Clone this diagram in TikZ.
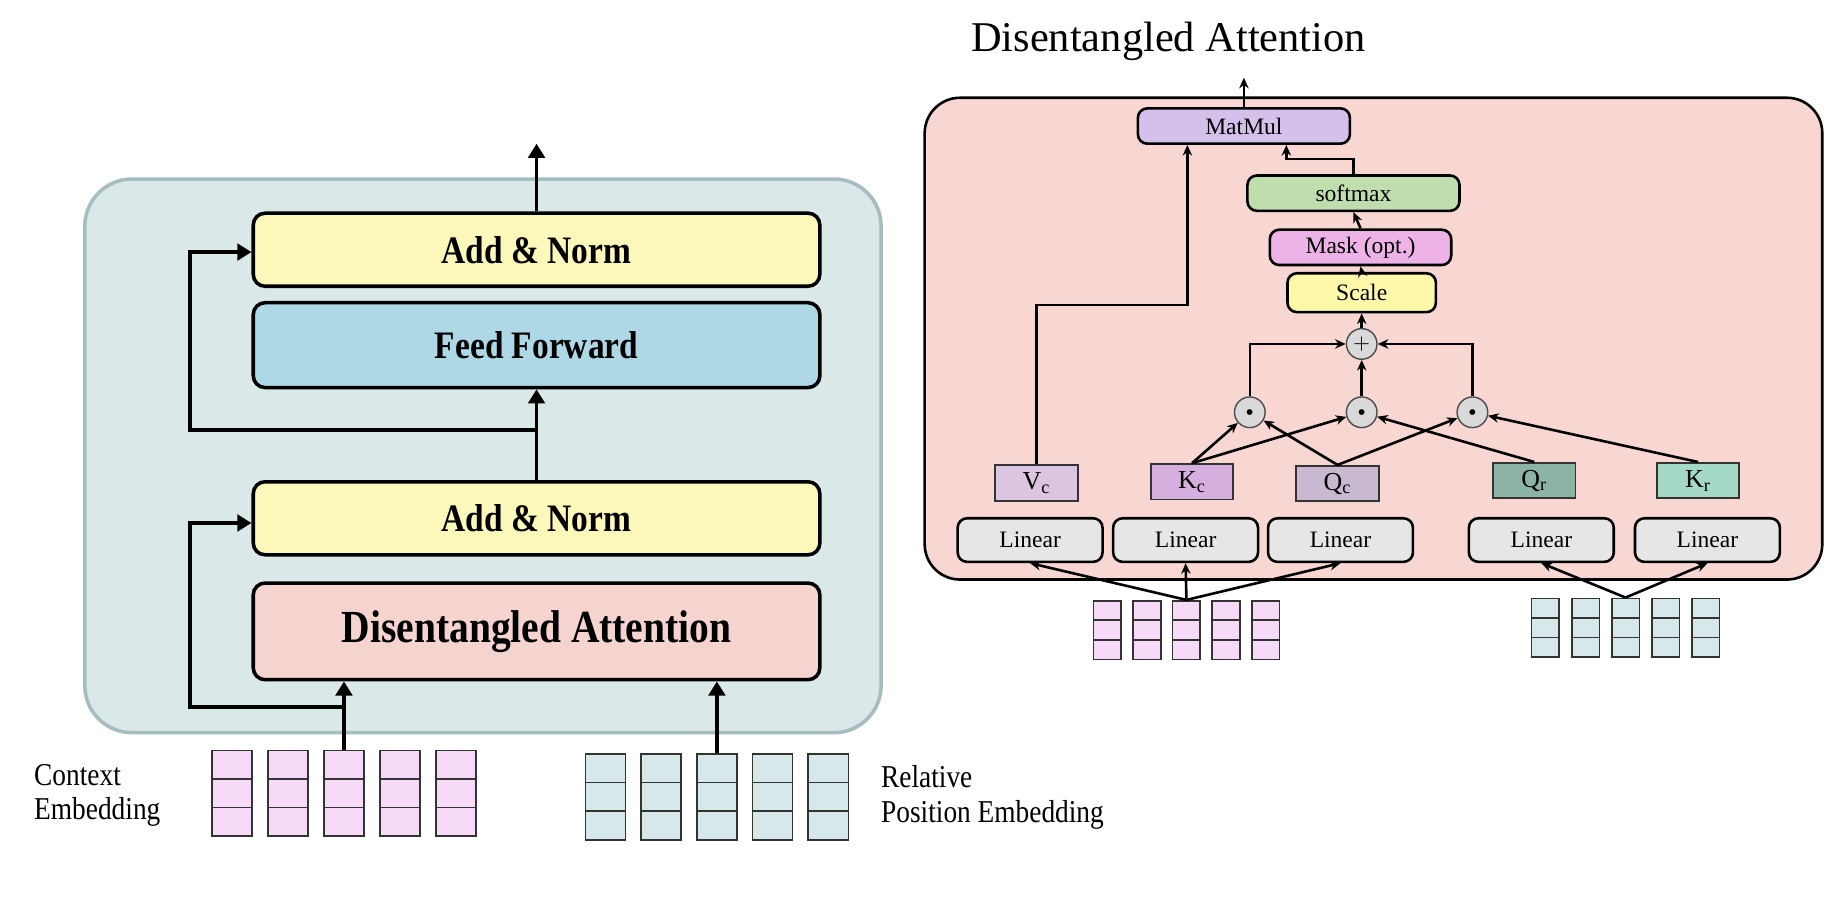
\documentclass[tikz,border=0pt]{standalone}
\usepackage{fontspec}
\setmainfont{Liberation Serif}
\newfontfamily\narrowfont[FakeStretch=0.86]{Liberation Serif}
\usetikzlibrary{arrows.meta}
\definecolor{layerfill}{HTML}{DAE8E8}
\definecolor{layeredge}{HTML}{A5BCC0}
\definecolor{normfill}{HTML}{FCF8BA}
\definecolor{fffill}{HTML}{AED8E5}
\definecolor{attnfill}{HTML}{F5D3CE}
\definecolor{ctxpink}{HTML}{F7DAF8}
\definecolor{relteal}{HTML}{D7E8EA}
\definecolor{panelpink}{HTML}{F8D7D3}
\definecolor{matfill}{HTML}{D4C0EA}
\definecolor{smfill}{HTML}{C0DDAE}
\definecolor{maskfill}{HTML}{EDB3E6}
\definecolor{scalefill}{HTML}{FDF9A9}
\definecolor{opgray}{HTML}{D9D9D9}
\definecolor{lingray}{HTML}{E6E6E6}
\definecolor{vcfill}{HTML}{DCC5E1}
\definecolor{kcfill}{HTML}{D5AFDD}
\definecolor{qcfill}{HTML}{C9B9D0}
\definecolor{qrfill}{HTML}{8BB4A6}
\definecolor{krfill}{HTML}{A3D9C5}
\tikzset{
  bigbox/.style={draw,line width=1.5pt,rounded corners=5pt,minimum width=240.5pt,
    font=\narrowfont\bfseries\fontsize{16.5}{18}\selectfont},
  flow/.style={line width=1.6pt,-{Triangle[width=7pt,length=6pt]}},
  opbox/.style={draw,line width=1.1pt,rounded corners=4pt,minimum height=15pt,
    inner sep=0pt,font=\fontsize{10}{12}\selectfont},
  linbox/.style={opbox,fill=lingray,minimum width=61.5pt,minimum height=18.5pt},
  vecbox/.style={draw=black!80,line width=0.8pt,minimum width=35pt,minimum height=15pt,
    inner sep=0pt,font=\fontsize{11}{12}\selectfont},
  opcirc/.style={circle,draw=black!70,line width=0.6pt,fill=opgray,minimum size=13pt,
    inner sep=0pt,font=\fontsize{9}{10}\selectfont},
  link/.style={line width=1.1pt,-{Stealth[length=4.5pt,width=4pt]}},
  cell/.style={draw=black!80,line width=0.7pt,inner sep=0pt}
}
\begin{document}
\begin{tikzpicture}[x=0.5pt,y=-0.5pt]
  \useasboundingbox (0,0) rectangle (1568,780);
  % encoder layer
  \draw[draw=layeredge,line width=1.5pt,fill=layerfill,rounded corners=20pt] (72,152) rectangle (748,622);
  \node[bigbox,fill=normfill,minimum height=31pt] (an2) at (455.5,212) {Add \& Norm};
  \node[bigbox,fill=fffill,minimum height=36pt] (ff) at (455.5,293) {Feed Forward};
  \node[bigbox,fill=normfill,minimum height=31pt] (an1) at (455.5,440) {Add \& Norm};
  \node[bigbox,fill=attnfill,minimum height=41pt,font=\narrowfont\bfseries\fontsize{19.5}{21}\selectfont] (da) at (455.5,536) {Disentangled Attention};
  \foreach \i in {0,...,4}
    \foreach \j in {0,1,2}{
      \node[cell,fill=ctxpink,minimum width=17pt,minimum height=12.15pt] (ctx\i\j) at ({197+47.5*\i},{649.2+24.3*\j}) {};
      \node[cell,fill=relteal,minimum width=17pt,minimum height=12.15pt] (rel\i\j) at ({514+47.3*\i},{652.2+24.3*\j}) {};}
  \node[anchor=west,align=left,font=\narrowfont\fontsize{13.5}{14.5}\selectfont] (ctxlab) at (22,675) {Context\\Embedding};
  \node[anchor=west,align=left,font=\narrowfont\fontsize{13.5}{14.5}\selectfont] (rellab) at (741,677) {Relative\\Position Embedding};
  \coordinate (out) at (455.5,122);
  \coordinate (res1) at (ctx20.north |- 0,600);
  \coordinate (res2) at (an1.north |- 0,365);
  \draw[flow] (ctx20.north) -- (ctx20.north |- da.south);
  \draw[flow] (rel20.north) -- (rel20.north |- da.south);
  \draw[flow] (res1) -| ([xshift=-26pt,yshift=-2pt]an1.west) -- ([yshift=-2pt]an1.west);
  \draw[flow] (an1.north) -- (ff.south);
  \draw[flow] (res2) -| ([xshift=-26pt,yshift=-1pt]an2.west) -- ([yshift=-1pt]an2.west);
  \draw[flow] (an2.north) -- (out);
  % attention detail
  \node[font=\fontsize{18}{20}\selectfont] (title) at (992,35) {Disentangled Attention};
  \draw[line width=1.1pt,fill=panelpink,rounded corners=15pt] (785,83) rectangle (1547,492);
  \node[opbox,fill=matfill,minimum width=90pt] (mm) at (1056,107) {MatMul};
  \node[opbox,fill=smfill,minimum width=90pt] (sm) at (1149,164) {softmax};
  \node[opbox,fill=maskfill,minimum width=77pt] (mask) at (1155,210) {Mask (opt.)};
  \node[opbox,fill=scalefill,minimum width=63pt,minimum height=16.5pt] (scale) at (1156,248.5) {Scale};
  \node[opcirc] (plus) at (1156,292) {$+$};
  \foreach \n/\x in {d1/1061,d2/1156,d3/1250}
    \node[opcirc] (\n) at (\x,350) {\fontsize{5}{5}\selectfont$\bullet$};
  \node[vecbox,fill=vcfill] (vc) at (880,410) {V\textsubscript{c}};
  \node[vecbox,fill=kcfill] (kc) at (1012,409) {K\textsubscript{c}};
  \node[vecbox,fill=qcfill] (qc) at (1135.5,410.5) {Q\textsubscript{c}};
  \node[vecbox,fill=qrfill] (qr) at (1302.5,408) {Q\textsubscript{r}};
  \node[vecbox,fill=krfill] (kr) at (1441.5,408) {K\textsubscript{r}};
  \foreach \n/\x in {l1/874.5,l2/1006.5,l3/1138,l4/1308.5,l5/1449.5}
    \node[linbox] (\n) at (\x,458.5) {Linear};
  \foreach \i in {0,...,4}
    \foreach \j in {0,1,2}{
      \node[cell,fill=ctxpink,minimum width=11.75pt,minimum height=8.3pt] (sctx\i\j) at ({940+33.6*\i},{518.3+16.6*\j}) {};
      \node[cell,fill=relteal,minimum width=11.75pt,minimum height=8.3pt] (srel\i\j) at ({1312+34*\i},{516.3+16.6*\j}) {};}
  \coordinate (mmout) at (1056,66);
  \draw[link] (mm.north) -- (mmout);
  \draw[link] (vc.north) |- ([xshift=-24pt,yshift=-68pt]mm.south) -- ([xshift=-24pt]mm.south);
  \draw[link] (sm.north) -- ++(0,-13) -| ([xshift=18pt]mm.south);
  \draw[link] (mask.north) -- (sm.south);
  \draw[link] (scale.north) -- (mask.south);
  \draw[link] (plus.north) -- (scale.south);
  \draw[link] (d1.north) |- (plus.west);
  \draw[link] (d2.north) -- (plus.south);
  \draw[link] (d3.north) |- (plus.east);
  \draw[link] (kc.north) -- (d1);
  \draw[link] (kc.north) -- (d2);
  \draw[link] (qc.north) -- (d1);
  \draw[link] (qc.north) -- (d3);
  \draw[link] (qr.north) -- (d2);
  \draw[link] (kr.north) -- (d3);
  \foreach \n in {l1,l2,l3}
    \draw[link] (sctx20.north) -- (\n.south);
  \foreach \n in {l4,l5}
    \draw[link] (srel20.north) -- (\n.south);
\end{tikzpicture}
\end{document}
